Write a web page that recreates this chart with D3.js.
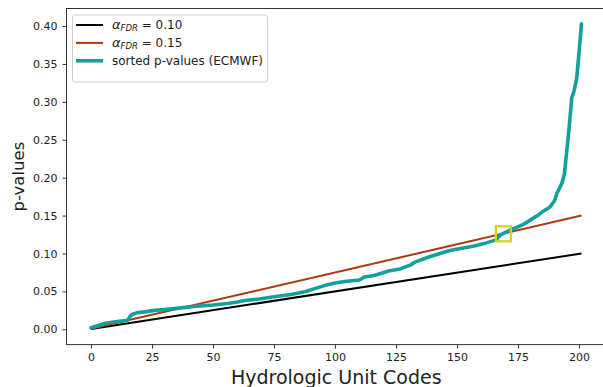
<!DOCTYPE html>
<html>
<head>
<meta charset="utf-8">
<script src="https://cdn.jsdelivr.net/npm/d3@7"></script>
<style>
  body { margin: 0; background: #fff; }
  text { font-family: "DejaVu Sans", sans-serif; fill: #222; }
</style>
</head>
<body>
<div id="chart"></div>
<script>
// sorted p-values (ECMWF) at these ranks
const rank = [0, 3, 6, 10, 15, 16, 17, 19, 22, 26, 30, 36, 42, 50, 56, 60, 63, 69, 75, 82,
  88, 92, 96, 100, 104, 110, 112, 116, 122, 127, 131, 133, 139, 143, 147, 152, 157, 162,
  166, 168, 172, 177, 180, 183, 185, 188, 190, 191, 192, 193, 194, 195, 196, 197, 198,
  199, 200, 201]
const pSorted = [0.002, 0.005, 0.008, 0.010, 0.012, 0.017, 0.020, 0.022, 0.023, 0.025,
  0.026, 0.028, 0.030, 0.032, 0.034, 0.036, 0.038, 0.040, 0.043, 0.046,
  0.050, 0.054, 0.058, 0.061, 0.063, 0.065, 0.069, 0.071, 0.077, 0.080, 0.085, 0.089,
  0.096, 0.100, 0.104, 0.107, 0.110, 0.114, 0.118, 0.125, 0.131, 0.138, 0.144, 0.150,
  0.155, 0.161, 0.170, 0.180, 0.186, 0.193, 0.205, 0.236, 0.268, 0.305, 0.315, 0.330,
  0.365, 0.403]

// FDR thresholds: alpha * i / N
const nHuc = 202
const alphas = [0.10, 0.15]
const alphaColors = ["#000000", "#b0380f"]
const xTicks = [0, 25, 50, 75, 100, 125, 150, 175, 200]
const yTicks = [0.00, 0.05, 0.10, 0.15, 0.20, 0.25, 0.30, 0.35, 0.40]
// highlighted crossing point
const crossing = { rank: 169, p: 0.126 }

const width = 603
const height = 387

const svg = d3.select("#chart")
  .append("svg")
  .attr("width", width)
  .attr("height", height)

// matplotlib style 5% margins
const xMin = 0, xMax = nHuc - 1
const yMin = 0, yMax = d3.max(pSorted)
const xPad = (xMax - xMin) * 0.05
const yPad = (yMax - yMin) * 0.05

const x = d3.scaleLinear()
  .domain([xMin - xPad, xMax + xPad])
  .range([66.5, 606])
const y = d3.scaleLinear()
  .domain([yMin - yPad, yMax + yPad])
  .range([344.6, 8.5])

const plot = svg.append("g")

// threshold lines
alphas.forEach((a, i) => {
  const pts = [1, nHuc].map(k => [k - 1, a * k / nHuc])
  plot.append("path")
    .datum(pts)
    .attr("d", d3.line().x(d => x(d[0])).y(d => y(d[1])))
    .attr("fill", "none")
    .attr("stroke", alphaColors[i])
    .attr("stroke-width", 2)
})

// sorted p-values
const pts = rank.map((r, i) => [r, pSorted[i]])
plot.append("path")
  .datum(pts)
  .attr("d", d3.line().x(d => x(d[0])).y(d => y(d[1])))
  .attr("fill", "none")
  .attr("stroke", "#12a09c")
  .attr("stroke-width", 3.6)
  .attr("stroke-linejoin", "round")
  .attr("stroke-linecap", "round")

// crossing marker
plot.append("rect")
  .attr("x", x(crossing.rank) - 7.5)
  .attr("y", y(crossing.p) - 7.5)
  .attr("width", 15)
  .attr("height", 15)
  .attr("fill", "none")
  .attr("stroke", "#d2d21a")
  .attr("stroke-width", 2.2)

// axes
const xAxis = svg.append("g")
  .attr("transform", `translate(0,${y.range()[0]})`)
  .call(d3.axisBottom(x).tickValues(xTicks).tickFormat(d3.format("d")).tickSize(4).tickPadding(5))
const yAxis = svg.append("g")
  .attr("transform", `translate(${x.range()[0]},0)`)
  .call(d3.axisLeft(y).tickValues(yTicks).tickFormat(d3.format(".2f")).tickSize(4).tickPadding(5))

;[xAxis, yAxis].forEach(ax => {
  ax.select(".domain").remove()
  ax.selectAll(".tick line").attr("stroke", "#333")
  ax.selectAll(".tick text")
    .style("font-family", "DejaVu Sans")
    .style("font-size", "11px")
    .attr("fill", "#222")
})

// frame
svg.append("rect")
  .attr("x", x.range()[0])
  .attr("y", y.range()[1])
  .attr("width", x.range()[1] - x.range()[0])
  .attr("height", y.range()[0] - y.range()[1])
  .attr("fill", "none")
  .attr("stroke", "#333")
  .attr("stroke-width", 1)

// axis labels
svg.append("text")
  .attr("x", (x.range()[0] + x.range()[1]) / 2)
  .attr("y", 384)
  .attr("text-anchor", "middle")
  .style("font-size", "19px")
  .text("Hydrologic Unit Codes")

svg.append("text")
  .attr("transform", `translate(24,${(y.range()[0] + y.range()[1]) / 2}) rotate(-90)`)
  .attr("text-anchor", "middle")
  .style("font-size", "16.5px")
  .text("p-values")

// legend
const legend = svg.append("g")
legend.append("rect")
  .attr("x", 72.5)
  .attr("y", 15)
  .attr("width", 195)
  .attr("height", 67)
  .attr("rx", 3)
  .attr("fill", "#fff")
  .attr("fill-opacity", 0.8)
  .attr("stroke", "#d0d0d0")

const entries = [
  { color: alphaColors[0], width: 2, alpha: "0.10" },
  { color: alphaColors[1], width: 2, alpha: "0.15" },
  { color: "#12a09c", width: 3.6, label: "sorted p-values (ECMWF)" }
]
entries.forEach((e, i) => {
  const ly = 25 + i * 17.9
  legend.append("line")
    .attr("x1", 76).attr("x2", 103)
    .attr("y1", ly).attr("y2", ly)
    .attr("stroke", e.color)
    .attr("stroke-width", e.width)
  const t = legend.append("text")
    .attr("x", 112)
    .attr("y", ly + 4.3)
    .style("font-size", "12px")
  if (e.label) {
    t.text(e.label)
  } else {
    t.append("tspan").style("font-style", "italic").style("font-size", "13px").text("α")
    t.append("tspan").style("font-style", "italic").style("font-size", "8.5px")
      .attr("dy", 2).text("FDR")
    t.append("tspan").attr("dy", -2).text(" = " + e.alpha)
  }
})
</script>
</body>
</html>
